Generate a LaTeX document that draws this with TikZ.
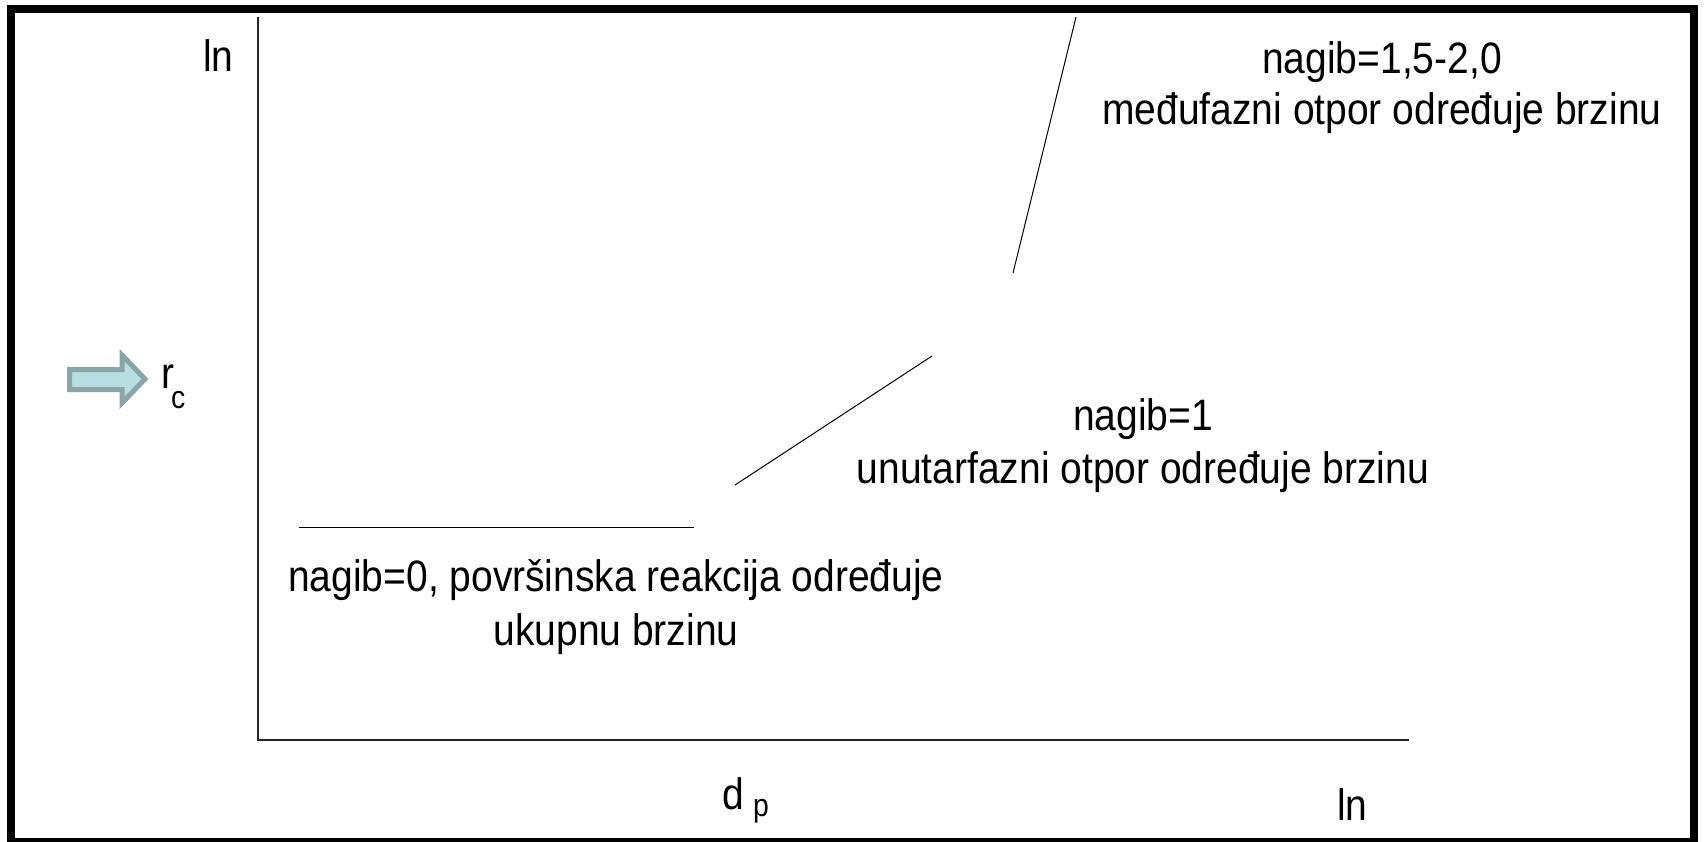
\documentclass[tikz,border=0pt]{standalone}
\usepackage{fontspec}
\setmainfont[FakeStretch=0.886]{Liberation Sans}
\definecolor{arrowfill}{HTML}{B8DEE1}
\definecolor{arrowedge}{HTML}{8AA5A7}
\tikzset{
  frame/.style={line width=8pt, draw=black},
  axisline/.style={line width=1.3pt, draw=black!85},
  dataline/.style={line width=1pt, draw=black},
  lbl/.style={anchor=base, inner sep=0pt, font=\fontsize{44}{53}\selectfont},
  lblw/.style={anchor=base west, inner sep=0pt, font=\fontsize{44}{53}\selectfont},
  sub/.style={anchor=base west, inner sep=0pt, font=\fontsize{32}{38}\selectfont},
  bigarrow/.style={line width=5pt, draw=arrowedge, fill=arrowfill, line join=miter}
}
\begin{document}
\begin{tikzpicture}[x=1pt, y=-1pt]
\useasboundingbox (0,0) rectangle (1704,842);
\fill[white] (0,0) rectangle (1704,842);
\draw[frame] (11,9) rectangle (1693.5,842);
% axes
\coordinate (O) at (258,740);
\coordinate (ytop) at (258,17);
\coordinate (xend) at (1409,740);
\draw[axisline] (ytop) -- (O) -- (xend);
% data segments
\coordinate (a1) at (299,527);
\coordinate (a2) at (694,527);
\coordinate (b1) at (735,485);
\coordinate (b2) at (932,356);
\coordinate (c1) at (1013,273);
\coordinate (c2) at (1076,17);
\draw[dataline] (a1) -- (a2);
\draw[dataline] (b1) -- (b2);
\draw[dataline] (c1) -- (c2);
% arrow
\draw[bigarrow] (69.5,369.5) -- (122,369.5) -- (122,355) -- (145,379) -- (122,403) -- (122,389.5) -- (69.5,389.5) -- cycle;
% axis labels
\node[lblw] (lntop) at (203,72) {ln};
\node[lblw] (r) at (161,388) {r};
\node[sub] (c) at (171,408) {c};
\node[lblw] (d) at (722,809) {d};
\node[sub] (p) at (753,816) {p};
\node[lblw] (lnbot) at (1337,820) {ln};
% region labels
\node[lbl] (t1) at (1382,74) {nagib=1,5-2,0};
\node[lbl] (t2) at (1382,125) {međufazni otpor određuje brzinu};
\node[lbl] (m1) at (1143,430) {nagib=1};
\node[lbl] (m2) at (1143,483) {unutarfazni otpor određuje brzinu};
\node[lbl] (b1t) at (616,591) {nagib=0, površinska reakcija određuje};
\node[lbl] (b2t) at (616,645) {ukupnu brzinu};
\end{tikzpicture}
\end{document}
